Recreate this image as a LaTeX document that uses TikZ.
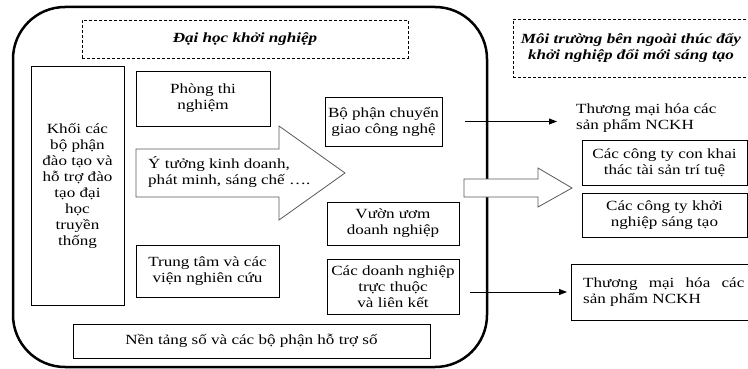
\documentclass[tikz,border=0pt]{standalone}
\usepackage{fontspec}
\setmainfont{Liberation Serif}[FakeStretch=1.22]
\usetikzlibrary{arrows.meta}
\newcommand\dfont{\fontsize{14}{16}\selectfont}
\begin{document}
\begin{tikzpicture}[x=1pt,y=-1pt,
  box/.style={draw, line width=0.8pt, inner sep=0pt, align=center, font=\dfont},
  dashbox/.style={draw, dashed, dash pattern=on 3pt off 2pt, line width=0.7pt, inner sep=0pt},
  title/.style={font=\dfont\bfseries\itshape, align=center, inner sep=0pt},
  plain/.style={font=\dfont, align=left, inner sep=0pt},
  bigarrow/.style={draw=black!65, line width=0.8pt, fill=white, line join=miter},
  conn/.style={line width=0.8pt, -{Triangle[length=8pt,width=6pt]}}]
\useasboundingbox (0,0) rectangle (748,369);
% outer frame
\draw[line width=2.5pt, rounded corners=52pt] (13,7) rectangle (487,367);
% titles
\node[dashbox, minimum width=326pt, minimum height=38pt] (dhbox) at (245,39) {};
\node[title] (dh) at (245,39) {Đại học khởi nghiệp};
\node[dashbox, minimum width=250pt, minimum height=58pt, anchor=north west] (mtbox) at (513,19) {};
\node[title] (mt) at (631,48) {Môi trường bên ngoài thúc đẩy\\khởi nghiệp đổi mới sáng tạo};
% left block
\node[box, minimum width=93pt, minimum height=239pt] (khoi) at (77.5,185.5)
  {Khối các\\bộ phận\\đào tạo và\\hỗ trợ đào\\tạo đại\\học\\truyền\\thống};
\node[box, minimum width=134pt, minimum height=55pt] (ptn) at (203,98.5) {Phòng thi\\nghiệm};
\node[box, minimum width=143pt, minimum height=52pt] (tt) at (207.5,271) {Trung tâm và các\\viện nghiên cứu};
\node[box, minimum width=357pt, minimum height=34pt] (nt) at (251.5,341) {Nền tảng số và các bộ phận hỗ trợ số};
% big arrow
\draw[bigarrow] (136,149) -- (279,149) -- (279,126) -- (345,173) -- (279,220) -- (279,197) -- (136,197) -- cycle;
\node[plain, anchor=west] (yt) at (148,172) {Ý tưởng kinh doanh,\\phát minh, sáng chế ….};
% middle column
\node[box, minimum width=117pt, minimum height=49pt] (cg) at (383.5,121.5) {Bộ phận chuyển\\giao công nghệ};
\node[box, minimum width=132pt, minimum height=43pt] (vu) at (393,223.5) {Vườn ươm\\doanh nghiệp};
\node[box, minimum width=132pt, minimum height=55pt] (dn) at (393,286.5) {Các doanh nghiệp\\trực thuộc\\ và liên kết};
% middle hollow arrow
\draw[bigarrow] (464,179) -- (538,179) -- (538,168) -- (572,188) -- (538,207) -- (538,197) -- (464,197) -- cycle;
% right column
\node[plain, anchor=west] (tm1) at (576,118.5) {Thương mại hóa các\\sản phẩm NCKH};
\node[box, minimum width=165pt, minimum height=45pt] (ct1) at (664.5,162.5) {Các công ty con khai\\thác tài sản trí tuệ};
\node[box, minimum width=165pt, minimum height=44pt] (ct2) at (664.5,215) {Các công ty khởi\\nghiệp sáng tạo};
\node[box, minimum width=178pt, minimum height=56pt, anchor=west] (tm2) at (571,292) {};
\node[plain, anchor=west] (tm2t) at (583,292) {Thương\hspace{0.5em} mại\hspace{0.5em} hóa\hspace{0.5em} các\\sản phẩm NCKH};
% connectors
\draw[conn, shorten <=23pt, shorten >=19pt] (cg.east) -- (tm1.west |- cg.east);
\draw[conn, shorten <=11pt, shorten >=4pt] (dn.east |- tm2.west) -- (tm2.west);
\end{tikzpicture}
\end{document}
